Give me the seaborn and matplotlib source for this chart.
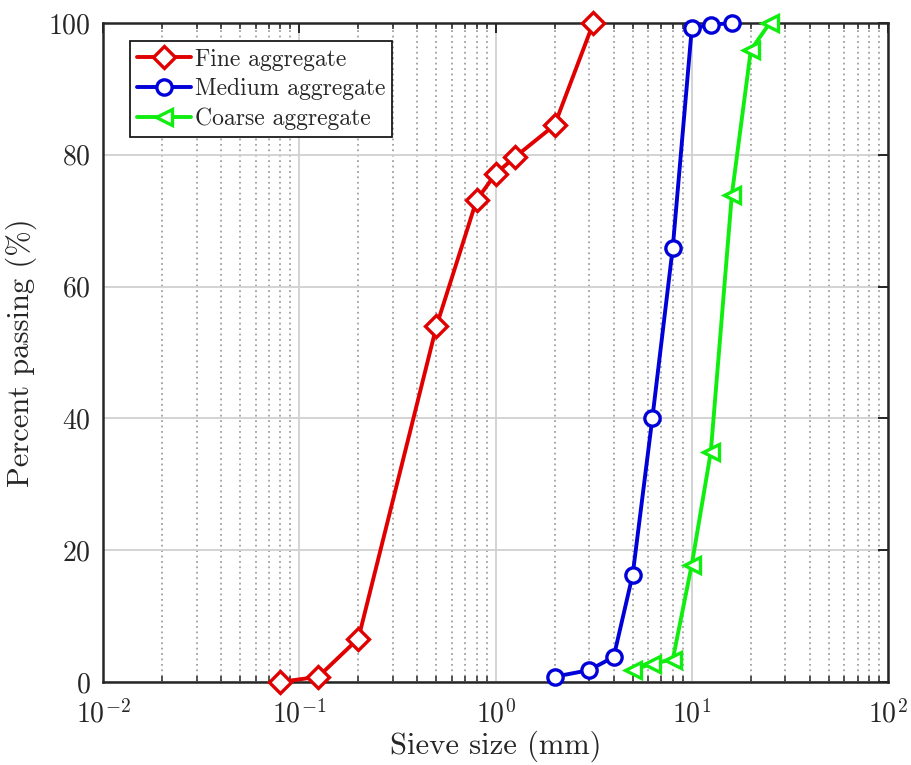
import numpy as np
import pandas as pd
import matplotlib
matplotlib.use("Agg")
import matplotlib.pyplot as plt
from matplotlib.ticker import LogLocator, NullFormatter
import seaborn as sns

# Sieve sizes (mm) and cumulative percent passing for each aggregate
fine_size = [0.08, 0.125, 0.2, 0.5, 0.8, 1.0, 1.25, 2.0, 3.15]
fine_pass = [0.0, 0.8, 6.6, 54.0, 73.1, 77.1, 79.6, 84.5, 100.0]

medium_size = [2.0, 3.0, 4.0, 5.0, 6.3, 8.0, 10.0, 12.5, 16.0]
medium_pass = [0.8, 1.8, 3.8, 16.3, 40.1, 65.9, 99.2, 99.7, 100.0]

coarse_size = [5.0, 6.3, 8.0, 10.0, 12.5, 16.0, 20.0, 25.0]
coarse_pass = [1.8, 2.8, 3.4, 17.8, 34.9, 73.9, 95.9, 100.0]

series_names = ["Fine aggregate", "Medium aggregate", "Coarse aggregate"]
series_colors = ["#e00000", "#0000d8", "#10ee10"]
series_markers = ["D", "o", "<"]

df = pd.concat([
    pd.DataFrame({"size": fine_size, "passing": fine_pass, "material": series_names[0]}),
    pd.DataFrame({"size": medium_size, "passing": medium_pass, "material": series_names[1]}),
    pd.DataFrame({"size": coarse_size, "passing": coarse_pass, "material": series_names[2]}),
], ignore_index=True)

sns.set_theme(style="white")
plt.rcParams["font.family"] = ["cmr10", "DejaVu Serif"]
plt.rcParams["mathtext.fontset"] = "cm"
plt.rcParams["axes.formatter.use_mathtext"] = True
plt.rcParams["axes.unicode_minus"] = False

fig = plt.figure(figsize=(9.12, 7.65), dpi=100)
ax = fig.add_axes([0.113, 0.1085, 0.8607, 0.8615])

sns.lineplot(
    data=df, x="size", y="passing", hue="material", style="material",
    hue_order=series_names, style_order=series_names,
    palette=dict(zip(series_names, series_colors)),
    markers=dict(zip(series_names, series_markers)),
    dashes=False, sort=False, estimator=None, legend=False,
    linewidth=2.8, markersize=11, ax=ax, zorder=3,
)

for line, color in zip(ax.lines, series_colors):
    line.set_markerfacecolor("white")
    line.set_markeredgecolor(color)
    line.set_markeredgewidth(2.4)
    line.set_clip_on(False)

ax.set_xscale("log")
ax.set_xlim(1e-2, 1e2)
ax.set_ylim(0, 100)
ax.set_yticks([0, 20, 40, 60, 80, 100])
ax.xaxis.set_major_locator(LogLocator(base=10, numticks=10))
ax.xaxis.set_minor_locator(LogLocator(base=10, subs=np.arange(2, 10), numticks=20))
ax.xaxis.set_minor_formatter(NullFormatter())

ax.grid(True, which="major", axis="both", color="#d0d0d0", linestyle="-", linewidth=1.3)
ax.grid(True, which="minor", axis="x", color="#a0a0a0", linestyle=(0, (1.0, 2.0)), linewidth=1.3)
ax.set_axisbelow(True)

for side in ["left", "right", "top", "bottom"]:
    ax.spines[side].set_visible(True)
    ax.spines[side].set_color("#262626")
    ax.spines[side].set_linewidth(1.8)

ax.tick_params(axis="both", which="major", direction="in", length=7, width=1.4,
               top=True, right=True, labelsize=20, colors="#262626")
ax.tick_params(axis="y", which="major", pad=9)
ax.tick_params(axis="x", which="major", pad=13)
ax.tick_params(axis="x", which="minor", direction="in", length=4, width=1.1,
               top=True, bottom=True)
ax.tick_params(axis="y", which="minor", left=False, right=False)

ax.set_xlabel("Sieve size (mm)", fontsize=22, color="#262626", labelpad=1)
ax.set_ylabel("Percent passing (%)", fontsize=22, color="#262626", labelpad=8)

leg = ax.legend(ax.lines, series_names, loc="upper left", bbox_to_anchor=(0.034, 0.972),
                borderaxespad=0, fontsize=17, frameon=True, fancybox=False,
                handlelength=2.3, handletextpad=0.15, borderpad=0.3, labelspacing=0.32)
leg.get_frame().set_edgecolor("#1a1a1a")
leg.get_frame().set_linewidth(1.3)
leg.get_frame().set_facecolor("white")
leg.get_frame().set_alpha(1.0)

fig.savefig("out.png", dpi=100, facecolor="white")
